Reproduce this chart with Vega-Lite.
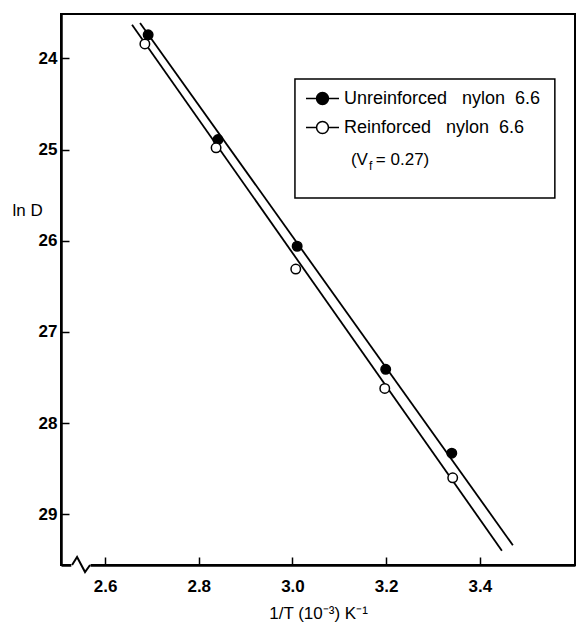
{
  "$schema": "https://vega.github.io/schema/vega-lite/v6.json",
  "width": 514,
  "height": 551,
  "autosize": "none",
  "padding": {"left": 61, "top": 14, "right": 1, "bottom": 60},
  "config": {
    "view": {"stroke": "black", "strokeWidth": 2},
    "font": "Liberation Sans"
  },
  "datasets": {
    "lines": [
      {"series": "Unreinforced\u00a0\u00a0 nylon\u00a0 6.6", "x": 2.6747, "y": 23.61},
      {"series": "Unreinforced\u00a0\u00a0 nylon\u00a0 6.6", "x": 3.4704, "y": 29.34},
      {"series": "Reinforced\u00a0\u00a0 nylon\u00a0 6.6", "x": 2.6576, "y": 23.63},
      {"series": "Reinforced\u00a0\u00a0 nylon\u00a0 6.6", "x": 3.447, "y": 29.40}
    ],
    "points": [
      {"series": "Unreinforced\u00a0\u00a0 nylon\u00a0 6.6", "x": 2.692, "y": 23.74},
      {"series": "Unreinforced\u00a0\u00a0 nylon\u00a0 6.6", "x": 2.841, "y": 24.89},
      {"series": "Unreinforced\u00a0\u00a0 nylon\u00a0 6.6", "x": 3.010, "y": 26.06},
      {"series": "Unreinforced\u00a0\u00a0 nylon\u00a0 6.6", "x": 3.199, "y": 27.41},
      {"series": "Unreinforced\u00a0\u00a0 nylon\u00a0 6.6", "x": 3.340, "y": 28.33},
      {"series": "Reinforced\u00a0\u00a0 nylon\u00a0 6.6", "x": 2.685, "y": 23.84},
      {"series": "Reinforced\u00a0\u00a0 nylon\u00a0 6.6", "x": 2.837, "y": 24.98},
      {"series": "Reinforced\u00a0\u00a0 nylon\u00a0 6.6", "x": 3.007, "y": 26.31},
      {"series": "Reinforced\u00a0\u00a0 nylon\u00a0 6.6", "x": 3.197, "y": 27.62},
      {"series": "Reinforced\u00a0\u00a0 nylon\u00a0 6.6", "x": 3.342, "y": 28.60}
    ],
    "box": [
      {"x": 3.0053, "x2": 3.56, "y": 24.225, "y2": 25.531}
    ],
    "notes": [
      {"part": "main", "text": "(V", "x": 3.1248, "y": 25.114},
      {"part": "sub", "text": "f", "x": 3.1632, "y": 25.18},
      {"part": "main", "text": "= 0.27)", "x": 3.178, "y": 25.114}
    ],
    "zigcover": [
      {"x": 2.528, "y": 29.557},
      {"x": 2.569, "y": 29.557}
    ],
    "zig": [
      {"x": 2.5296, "y": 29.557},
      {"x": 2.5403, "y": 29.47},
      {"x": 2.5573, "y": 29.634},
      {"x": 2.568, "y": 29.557}
    ]
  },
  "layer": [
    {
      "data": {"name": "lines"},
      "mark": {"type": "line", "color": "black", "strokeWidth": 1.8},
      "encoding": {
        "x": {
          "field": "x", "type": "quantitative",
          "scale": {"domain": [2.506, 3.603], "nice": false, "zero": false},
          "axis": {
            "values": [2.6, 2.8, 3.0, 3.2, 3.4],
            "format": ".1f",
            "title": "1/T (10\u207b\u00b3)  K\u207b\u00b9",
            "grid": false,
            "tickSize": -8, "tickWidth": 1.5, "tickColor": "black",
            "domainColor": "black", "domainWidth": 2.5,
            "labelPadding": 21, "labelFontSize": 17, "labelFontWeight": "bold", "labelColor": "black",
            "titleFontSize": 17, "titleFontWeight": "normal", "titleColor": "black",
            "titleY": 48, "titleBaseline": "middle"
          }
        },
        "y": {
          "field": "y", "type": "quantitative",
          "scale": {"domain": [23.512, 29.557], "reverse": true, "nice": false, "zero": false},
          "axis": {
            "values": [24, 25, 26, 27, 28, 29],
            "format": "d",
            "title": "ln D",
            "grid": false,
            "tickSize": -8, "tickWidth": 1.5, "tickColor": "black",
            "domainColor": "black", "domainWidth": 2.5,
            "labelPadding": 12, "labelFontSize": 17, "labelFontWeight": "bold", "labelColor": "black",
            "titleFontSize": 17, "titleFontWeight": "normal", "titleColor": "black",
            "titleAngle": 0, "titleX": -49, "titleY": 196, "titleAlign": "left", "titleBaseline": "middle"
          }
        },
        "detail": {"field": "series", "type": "nominal"}
      }
    },
    {
      "data": {"name": "points"},
      "mark": {"type": "point", "shape": "circle", "filled": true, "size": 90, "stroke": "black", "strokeWidth": 1.5, "opacity": 1},
      "encoding": {
        "x": {"field": "x", "type": "quantitative"},
        "y": {"field": "y", "type": "quantitative"},
        "fill": {
          "field": "series", "type": "nominal",
          "scale": {"domain": ["Unreinforced\u00a0\u00a0 nylon\u00a0 6.6", "Reinforced\u00a0\u00a0 nylon\u00a0 6.6"], "range": ["black", "white"]},
          "legend": {
            "title": null,
            "orient": "none",
            "legendX": 244,
            "legendY": 67,
            "padding": 0,
            "symbolType": "M-1,0H-0.36M0.36,0H1M-0.36,0A0.36,0.36,0,1,1,0.36,0A0.36,0.36,0,1,1,-0.36,0Z",
            "symbolSize": 1089,
            "symbolStrokeColor": "black",
            "symbolStrokeWidth": 1.5,
            "labelFontSize": 18,
            "labelColor": "black",
            "labelOffset": 4,
            "labelLimit": 400,
            "rowPadding": 2
          }
        }
      }
    },
    {
      "data": {"name": "box"},
      "mark": {"type": "rect", "fill": "white", "fillOpacity": 0, "stroke": "black", "strokeWidth": 1.5},
      "encoding": {
        "x": {"field": "x", "type": "quantitative"},
        "x2": {"field": "x2"},
        "y": {"field": "y", "type": "quantitative"},
        "y2": {"field": "y2"}
      }
    },
    {
      "data": {"name": "notes"},
      "transform": [{"filter": "datum.part === 'main'"}],
      "mark": {"type": "text", "fontSize": 17, "align": "left", "baseline": "middle", "color": "black"},
      "encoding": {
        "x": {"field": "x", "type": "quantitative"},
        "y": {"field": "y", "type": "quantitative"},
        "text": {"field": "text"}
      }
    },
    {
      "data": {"name": "notes"},
      "transform": [{"filter": "datum.part === 'sub'"}],
      "mark": {"type": "text", "fontSize": 12, "align": "left", "baseline": "middle", "color": "black"},
      "encoding": {
        "x": {"field": "x", "type": "quantitative"},
        "y": {"field": "y", "type": "quantitative"},
        "text": {"field": "text"}
      }
    },
    {
      "data": {"name": "zigcover"},
      "mark": {"type": "line", "color": "white", "strokeWidth": 5, "clip": false},
      "encoding": {
        "x": {"field": "x", "type": "quantitative"},
        "y": {"field": "y", "type": "quantitative"}
      }
    },
    {
      "data": {"name": "zig"},
      "mark": {"type": "line", "color": "black", "strokeWidth": 2, "clip": false},
      "encoding": {
        "x": {"field": "x", "type": "quantitative"},
        "y": {"field": "y", "type": "quantitative"}
      }
    }
  ]
}
